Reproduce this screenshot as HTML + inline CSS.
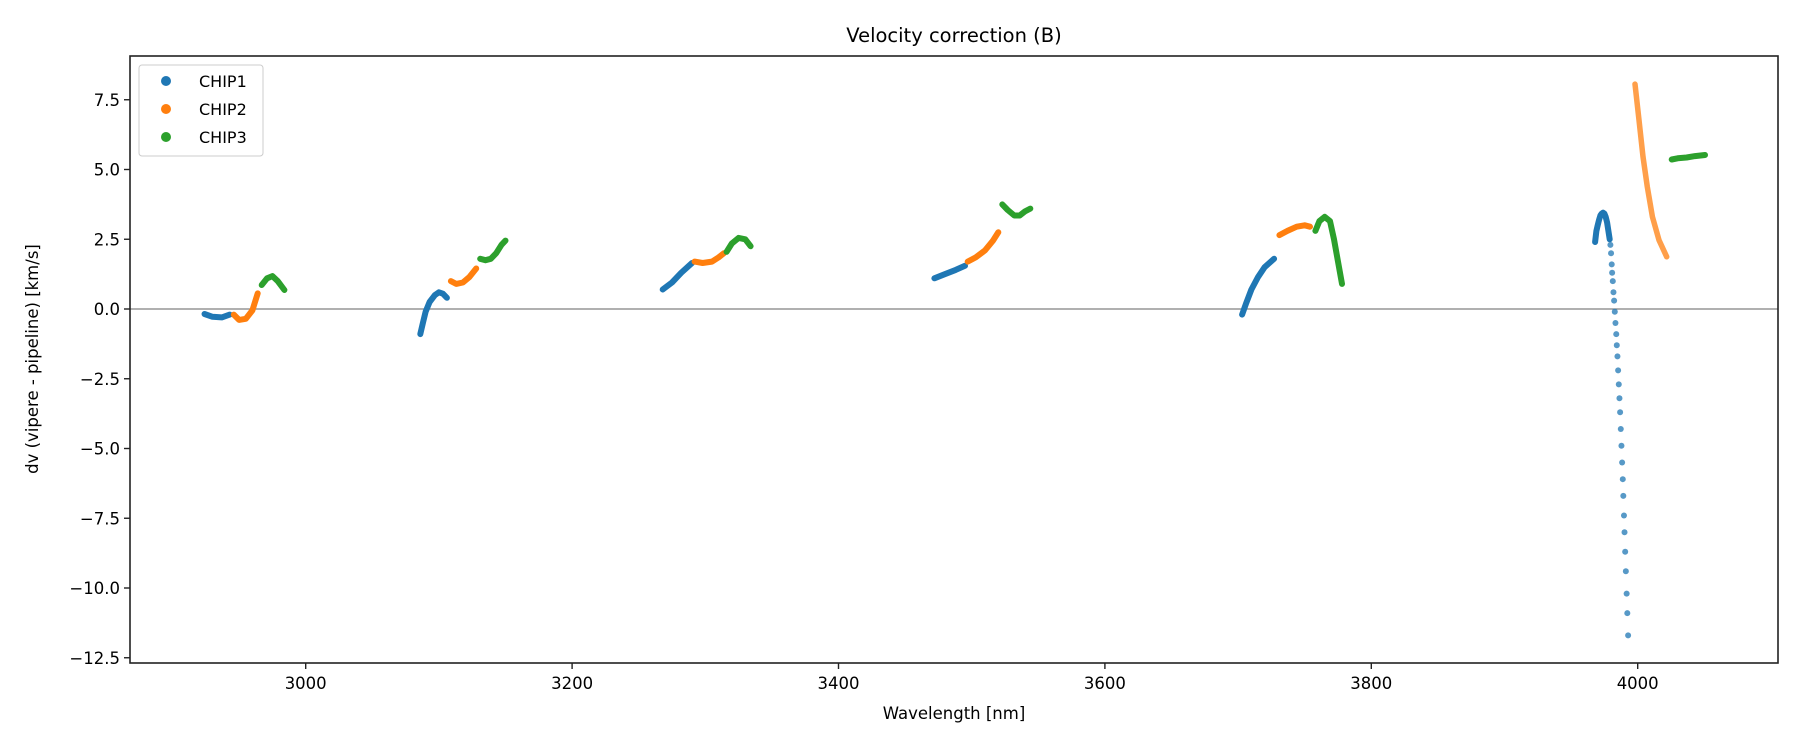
<!DOCTYPE html>
<html><head><meta charset="utf-8"><style>
body{margin:0;background:#fff}
svg text{font-family:"DejaVu Sans","Liberation Sans",sans-serif;fill:#000}
</style></head><body>
<svg id="chart" width="1800" height="750" xmlns="http://www.w3.org/2000/svg">
<rect width="1800" height="750" fill="#fff"/>
<text x="954" y="42" font-size="19.5" text-anchor="middle">Velocity correction (B)</text>
<text x="954" y="719" font-size="16.5" text-anchor="middle">Wavelength [nm]</text>
<text transform="translate(38,359) rotate(-90)" font-size="16.5" text-anchor="middle">dv (vipere - pipeline) [km/s]</text>
<g id="marks"></g>
<g id="axes"></g>
<g>
<rect x="139" y="65" width="124" height="91" rx="3" fill="#fff" fill-opacity="0.8" stroke="#ccc"/>
<circle cx="166" cy="81" r="5" fill="#1f77b4"/>
<text x="199" y="87" font-size="16">CHIP1</text>
<circle cx="166" cy="109" r="5" fill="#ff7f0e"/>
<text x="199" y="115" font-size="16">CHIP2</text>
<circle cx="166" cy="137" r="5" fill="#2ca02c"/>
<text x="199" y="143" font-size="16">CHIP3</text>
</g>
</svg>
<script>
const xTicks=[3000,3200,3400,3600,3800,4000];
const yTicks=[7.5,5.0,2.5,0.0,-2.5,-5.0,-7.5,-10.0,-12.5];
const chipNames=["CHIP1","CHIP2","CHIP3"];
const chipColors=["#1f77b4","#ff7f0e","#2ca02c"];
const seg1W=[[2924,2930,2937,2943],[2946,2950,2955,2960,2964],[2967,2971,2975,2979,2984]];
const seg1V=[[-0.18,-0.28,-0.3,-0.2],[-0.2,-0.39,-0.35,-0.05,0.56],[0.86,1.1,1.18,1.0,0.68]];
const seg2W=[[3086,3088,3090,3093,3097,3100,3103,3106],[3109,3113,3118,3123,3128],[3131,3135,3139,3143,3147,3150]];
const seg2V=[[-0.9,-0.5,-0.1,0.25,0.5,0.6,0.55,0.4],[1.0,0.9,0.95,1.15,1.45],[1.8,1.75,1.8,2.0,2.3,2.45]];
const seg3W=[[3268,3275,3282,3290],[3292,3298,3305,3310,3314],[3316,3320,3325,3330,3334]];
const seg3V=[[0.7,0.95,1.3,1.65],[1.7,1.65,1.7,1.85,2.0],[2.05,2.35,2.55,2.5,2.25]];
const seg4W=[[3472,3480,3488,3495],[3497,3503,3510,3516,3520],[3523,3527,3532,3536,3540,3544]];
const seg4V=[[1.1,1.25,1.4,1.55],[1.7,1.85,2.1,2.45,2.75],[3.75,3.55,3.35,3.35,3.5,3.6]];
const seg5W=[[3703,3706,3710,3715,3720,3727],[3731,3737,3744,3750,3754],[3758,3761,3765,3769,3772,3775,3778]];
const seg5V=[[-0.2,0.2,0.7,1.15,1.5,1.8],[2.65,2.8,2.95,3.0,2.95],[2.8,3.15,3.3,3.15,2.5,1.7,0.9]];
const seg6W=[[3968,3969,3970,3971,3972,3973,3974,3975,3976,3977,3978,3979],[3998,4001,4004,4007.2,4011,4016,4021.8],[4025.5,4030,4036.7,4043,4050.5]];
const seg6V=[[2.4,2.8,3.0,3.2,3.35,3.42,3.45,3.42,3.3,3.1,2.8,2.5],[8.06,6.77,5.46,4.38,3.31,2.47,1.87],[5.36,5.4,5.43,5.48,5.52]];
const tailW=[3979.5,3980,3980.5,3980.8,3981.3,3981.8,3982.3,3982.8,3983.3,3983.9,3984.3,3984.8,3985.3,3985.8,3986.3,3986.8,3987.3,3987.8,3988.3,3988.8,3989.2,3989.7,3990.1,3990.6,3991.1,3991.7,3992.2,3992.8];
const tailV=[2.3,2.0,1.6,1.3,1.0,0.6,0.3,-0.1,-0.5,-0.9,-1.3,-1.7,-2.2,-2.7,-3.2,-3.7,-4.3,-4.9,-5.5,-6.1,-6.7,-7.4,-8.0,-8.7,-9.4,-10.2,-10.9,-11.7];

const L=130,R=1778,T=56,B=663;
function X(v){return 305.7+(v-3000)*1.332;}
function Y(v){return 309-v*27.9;}
const NS="http://www.w3.org/2000/svg";
const marks=document.getElementById('marks'), axes=document.getElementById('axes');
function mk(tag,attrs,parent){const e=document.createElementNS(NS,tag);for(const k in attrs)e.setAttribute(k,attrs[k]);parent.appendChild(e);return e;}

const zl=mk('line',{x1:L,x2:R,y1:Y(0),y2:Y(0),stroke:'#808080','stroke-width':1.2},marks);



const segs=[[seg1W,seg1V],[seg2W,seg2V],[seg3W,seg3V],[seg4W,seg4V],[seg5W,seg5V],[seg6W,seg6V]];
segs.forEach((s,si)=>{
  for(let c=0;c<3;c++){
    const w=s[0][c],v=s[1][c];
    const pts=w.map((x,i)=>X(x).toFixed(1)+','+Y(v[i]).toFixed(1)).join(' ');
    const sparse=(si===5&&c===1);
    const p=mk('polyline',{points:pts,fill:'none',stroke:chipColors[c],'stroke-width':sparse?5.5:6,'stroke-linecap':'round','stroke-linejoin':'round','stroke-opacity':sparse?0.75:1},marks);
    
    
  }
});
tailW.forEach((w,i)=>{
  const d=mk('circle',{cx:X(w),cy:Y(tailV[i]),r:3,fill:'#1f77b4','fill-opacity':0.75},marks);
  
  
});

const fr=mk('rect',{x:L,y:T,width:R-L,height:B-T,fill:'none',stroke:'#222','stroke-width':1.6},axes);


xTicks.forEach(t=>{
  const ln=mk('line',{x1:X(t),x2:X(t),y1:B,y2:B+6,stroke:'#222','stroke-width':1.4},axes);
  
  
  const tx=mk('text',{x:X(t),y:B+26,'font-size':16.5,'text-anchor':'middle'},axes);
  tx.textContent=t;
  
  
});
yTicks.forEach(t=>{
  const ln=mk('line',{x1:L-6,x2:L,y1:Y(t),y2:Y(t),stroke:'#222','stroke-width':1.4},axes);
  
  
  const tx=mk('text',{x:L-10,y:Y(t)+6,'font-size':16.5,'text-anchor':'end'},axes);
  tx.textContent=t.toFixed(1).replace('-','\u2212');
  
  
});
</script>
</body></html>
